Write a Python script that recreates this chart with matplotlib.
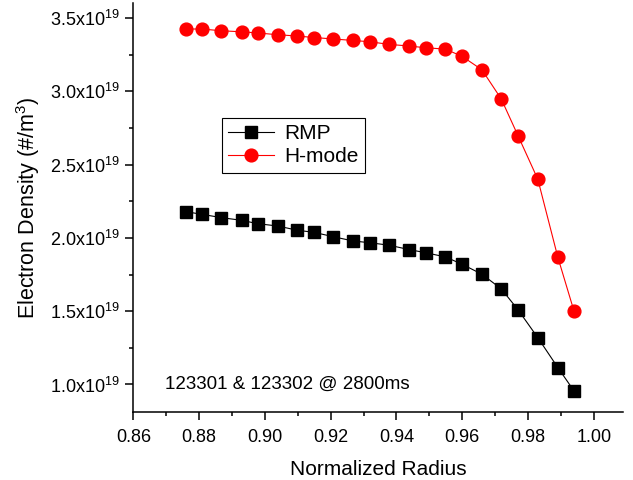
import matplotlib
matplotlib.use("Agg")
import matplotlib.pyplot as plt
from matplotlib.ticker import MultipleLocator, FuncFormatter

plt.rcParams["font.family"] = ["Liberation Sans", "DejaVu Sans"]
plt.rcParams["mathtext.fontset"] = "custom"
plt.rcParams["mathtext.rm"] = "Liberation Sans"
plt.rcParams["mathtext.default"] = "regular"

# normalized radius (shared by both profiles)
radius = [0.8759, 0.8808, 0.8868, 0.8929, 0.8978, 0.9039, 0.9099, 0.9149,
          0.9208, 0.9268, 0.9319, 0.9378, 0.9439, 0.9489, 0.9549, 0.9600,
          0.9660, 0.9719, 0.9770, 0.9830, 0.9891, 0.9940]

# electron density in units of 1e19 m^-3
rmp = [2.179, 2.161, 2.138, 2.120, 2.097, 2.081, 2.052, 2.038,
       2.008, 1.979, 1.967, 1.950, 1.920, 1.899, 1.870, 1.820,
       1.752, 1.652, 1.509, 1.319, 1.115, 0.956]

hmode = [3.425, 3.425, 3.413, 3.406, 3.398, 3.386, 3.377, 3.367,
         3.357, 3.347, 3.338, 3.320, 3.309, 3.297, 3.288, 3.238,
         3.147, 2.947, 2.696, 2.400, 1.867, 1.501]

fig = plt.figure(figsize=(6.33, 4.8), dpi=100)
ax = fig.add_axes([0.2107, 0.141, 0.774, 0.852])

ax.plot(radius, rmp, color="black", lw=0.8, marker="s", ms=8.6,
        mec="black", mfc="black", label="RMP")
ax.plot(radius, hmode, color="red", lw=0.8, marker="o", ms=9.2,
        mec="red", mfc="red", label="H-mode")

ax.set_xlim(0.86, 1.009)
ax.set_ylim(0.81, 3.60)

ax.xaxis.set_major_locator(MultipleLocator(0.02))
ax.xaxis.set_minor_locator(MultipleLocator(0.01))
ax.yaxis.set_major_locator(MultipleLocator(0.5))
ax.yaxis.set_minor_locator(MultipleLocator(0.25))
ax.xaxis.set_major_formatter(FuncFormatter(lambda v, p: "%.2f" % v))
ax.yaxis.set_major_formatter(FuncFormatter(lambda v, p: "%.1fx10$^{19}$" % v))

for s in ["top", "right"]:
    ax.spines[s].set_visible(False)
for s in ["left", "bottom"]:
    ax.spines[s].set_linewidth(1.1)

ax.tick_params(which="major", direction="out", length=6, width=1.1, labelsize=13)
ax.tick_params(axis="x", which="major", pad=6)
ax.tick_params(which="minor", direction="out", length=3, width=1.1)

ax.set_xlabel("Normalized Radius", fontsize=15, labelpad=10)
ax.set_ylabel("Electron Density (#/m$^3$)", fontsize=15.5, labelpad=6)

ax.text(0.8696, 1.0, "123301 & 123302 @ 2800ms", fontsize=13.5, va="center")

leg = ax.legend(loc="upper left", bbox_to_anchor=(0.18, 0.72), borderaxespad=0,
                fontsize=15, numpoints=1, fancybox=False, framealpha=1,
                edgecolor="black", handlelength=2.2, borderpad=0.3,
                labelspacing=0.2, handletextpad=0.5)
leg.get_frame().set_linewidth(0.8)

plt.savefig("out.png", dpi=100)
